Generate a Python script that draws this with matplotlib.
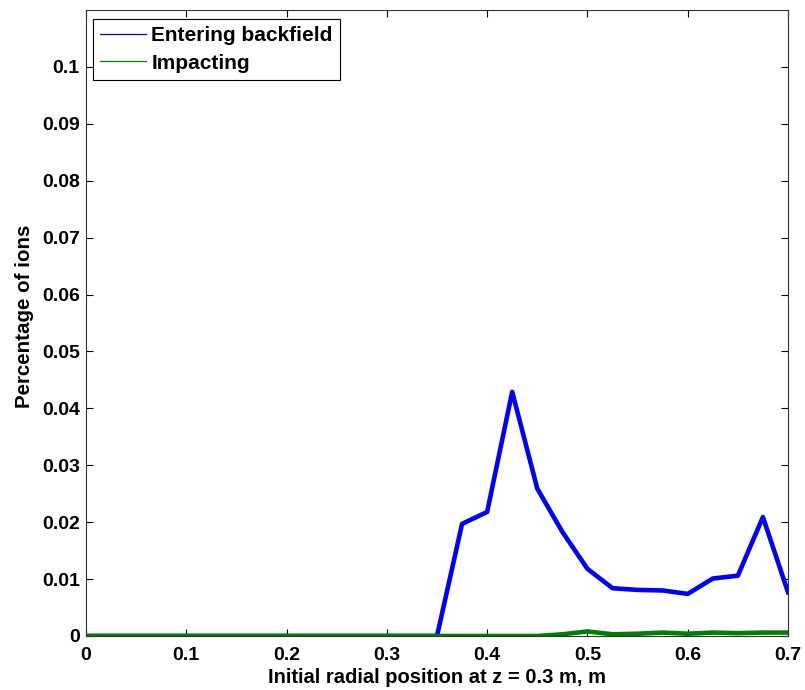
import matplotlib
matplotlib.use("Agg")
import matplotlib.pyplot as plt
from matplotlib.lines import Line2D

# Initial radial positions (m)
radial_pos = [0.0, 0.025, 0.05, 0.075, 0.1, 0.125, 0.15, 0.175, 0.2, 0.225, 0.25,
              0.275, 0.3, 0.325, 0.35, 0.375, 0.4, 0.425, 0.45, 0.475, 0.5, 0.525,
              0.55, 0.575, 0.6, 0.625, 0.65, 0.675, 0.7]

entering_backfield = [0, 0, 0, 0, 0, 0, 0, 0, 0, 0, 0, 0, 0, 0, 0,
                      0.0197, 0.0218, 0.0429, 0.0259, 0.0183, 0.0118, 0.0084,
                      0.0081, 0.0080, 0.0074, 0.0101, 0.0106, 0.0209, 0.0077]

impacting = [0, 0, 0, 0, 0, 0, 0, 0, 0, 0, 0, 0, 0, 0, 0, 0, 0, 0, 0,
             0.0003, 0.0008, 0.0003, 0.0004, 0.0006, 0.0004, 0.0006, 0.0005,
             0.0006, 0.0006]

x_ticks = [0, 0.1, 0.2, 0.3, 0.4, 0.5, 0.6, 0.7]
x_tick_labels = ["0", "0.1", "0.2", "0.3", "0.4", "0.5", "0.6", "0.7"]
y_ticks = [0, 0.01, 0.02, 0.03, 0.04, 0.05, 0.06, 0.07, 0.08, 0.09, 0.1]
y_tick_labels = ["0", "0.01", "0.02", "0.03", "0.04", "0.05", "0.06", "0.07",
                 "0.08", "0.09", "0.1"]

plt.rcParams["font.family"] = ["Liberation Sans", "DejaVu Sans"]
plt.rcParams["font.weight"] = "bold"

fig = plt.figure(figsize=(8.05, 6.9), dpi=100)
ax_w, ax_h = 788 - 86, 636 - 10
ax = fig.add_axes([86 / 805, 54 / 690, ax_w / 805, ax_h / 690])

blue = "#0000ff"
green = "#007f00"
ax.plot(radial_pos, entering_backfield, color=blue, lw=3.3)
ax.plot(radial_pos, impacting, color=green, lw=3.3)

ax.set_xlim(0, 0.7)
ax.set_ylim(0, 0.11)
ax.set_xticks(x_ticks)
ax.set_xticklabels(x_tick_labels)
ax.set_yticks(y_ticks)
ax.set_yticklabels(y_tick_labels)
ax.tick_params(direction="in", top=True, right=True, length=5, width=0.8,
               labelsize=14, colors="black")
ax.tick_params(axis="x", pad=8)
ax.tick_params(axis="y", pad=4.5)
for lab in ax.get_xticklabels() + ax.get_yticklabels():
    lab.set_fontweight("bold")
for sp in ax.spines.values():
    sp.set_linewidth(0.8)
    sp.set_color("#333333")

ax.set_xlabel("Initial radial position at z = 0.3 m, m", fontsize=14.5,
              fontweight="bold", labelpad=3)
ax.set_ylabel("Percentage of ions", fontsize=14.8, fontweight="bold")
ax.yaxis.set_label_coords(-52 / ax_w, 0.511)

handles = [Line2D([], [], color=blue, lw=0.9), Line2D([], [], color=green, lw=0.9)]
leg = ax.legend(handles, ["Entering backfield", "Impacting"], loc="upper left",
                bbox_to_anchor=(7 / ax_w, 1 - 9 / ax_h), borderaxespad=0,
                fancybox=False, edgecolor="black", framealpha=1,
                prop={"weight": "bold", "size": 15},
                handlelength=2.2, handletextpad=0.25, borderpad=0.35,
                labelspacing=0.4)
leg.get_frame().set_linewidth(0.8)

fig.savefig("out.png", dpi=100)
